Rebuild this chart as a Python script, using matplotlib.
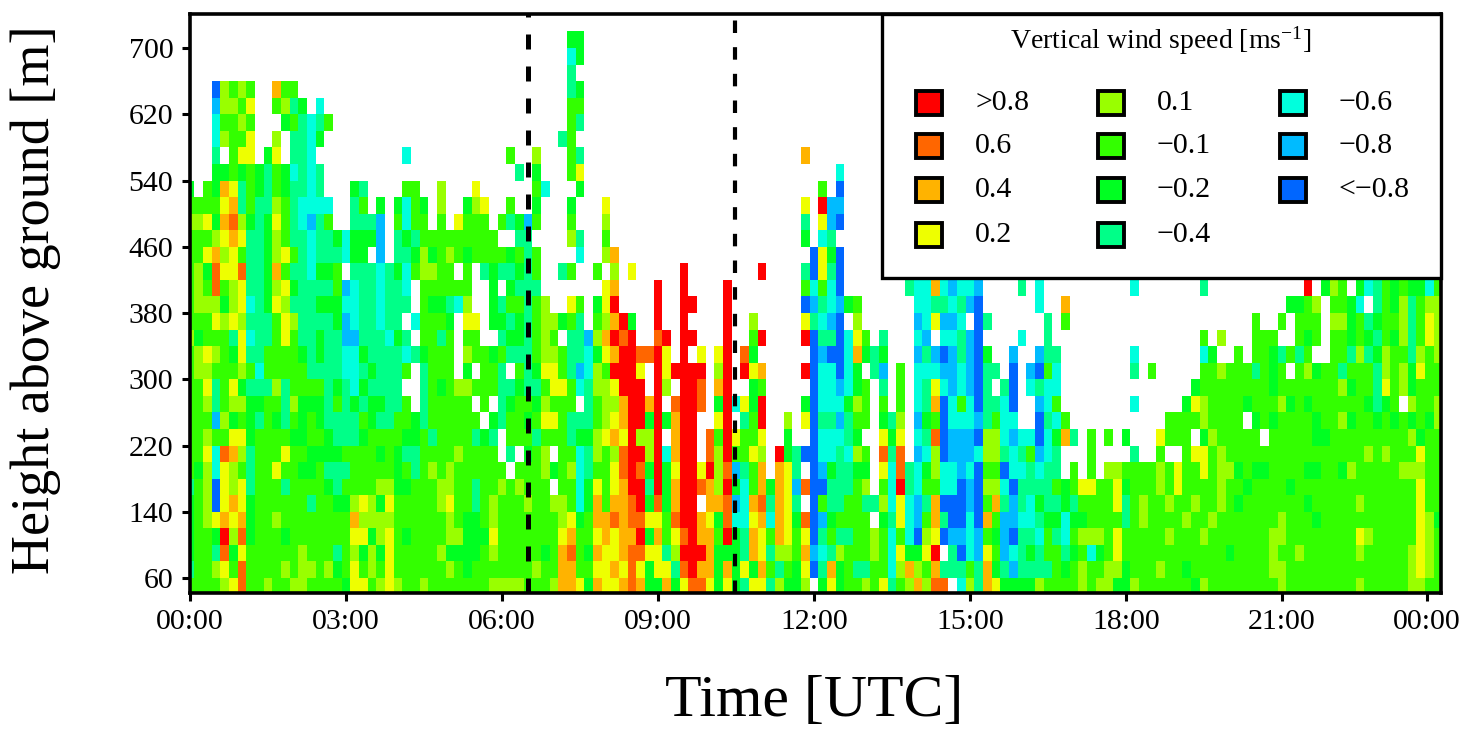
import numpy as np
import matplotlib
matplotlib.use("Agg")
import matplotlib.pyplot as plt
from matplotlib.colors import ListedColormap, BoundaryNorm
from matplotlib.patches import Rectangle

plt.rcParams['font.family'] = ['Liberation Serif', 'DejaVu Serif']
plt.rcParams['mathtext.fontset'] = 'custom'
plt.rcParams['mathtext.rm'] = 'Liberation Serif'
plt.rcParams['mathtext.default'] = 'regular'

# colour classes (legend order)
class_codes = list("ROAYLgGTCBD")
class_values = [1.0, 0.6, 0.4, 0.2, 0.1, -0.1, -0.2, -0.4, -0.6, -0.8, -1.0]
class_labels = [">0.8", "0.6", "0.4", "0.2", "0.1", "\u22120.1", "\u22120.2", "\u22120.4",
                "\u22120.6", "\u22120.8", "<\u22120.8"]
class_colors = ["#ff0000", "#ff6600", "#ffb300", "#eeff00", "#99ff00", "#33ff00",
                "#00ff22", "#00ff88", "#00ffdd", "#00bbff", "#0066ff"]

# height (top of each range gate) from 720 m down to 60 m, 20 m steps
gate_tops = list(range(720, 40, -20))

# columns 0-38 (10 min steps, from 00:00)
block_a = [
 "", "", "",
 "...DLgLg..Agg",
 "...BLLgY..gLTG.C",
 "...CggLg...GgTCTg",
 "...CLggY..L.TTCG",
 "...T.gYY.GY.TTC" + "." * 10 + "C" + "." * 11 + "g.",
 "...GGgGgGTgGCTCT" + "." * 22 + "T",
 "G.gGAYTgGTgGTTCT...GT....gg..L...Y.....",
 "ggggYATgTTLgTCCCC..Tg.G.GCgG.L..GLY..g.",
 "LLYGAOLGTGYgTCBTg..TTTB.gCgg.g.Yggg.gTG",
 "gggLYAYTTGLgTTCTTGCGGGB.TGTggggggggg..T",
 "ggYALYgTTGLYgTCTTTCGG.B.TTGLGgLgGggggGg",
 "gLGOYYOTTGAgTTCGGg.TTTCTGCgLLgg.g.TGTTG",
 "gLgOgLYTTGLYGTTTTgBCTTCTTC.gggggg..G.GT",
 "gLLLGLYCTGYLTTTGGGCCTTCTTT.gGGTCL..GTgg",
 "gggYLYLTTTgYLTTTTGBCTTCTT.CgggG.YY.GGTG",
 "LGgggTYCTTgYgTTGTTBBTTTCGT.ggTg.gg..TGG",
 "gLYLgGYTTggggGTGTTCCGTTTTCTGggg.LggGgTT",
 "gLLgggLgCgggggTTTTCCTGTTTg.Tggg.G.ggT.g",
 "ggYTgYGTTTLTggggTGTCGTTTT..TgGgLLgggTTG",
 "ggLTgLLGGggTLGGGTgTGTGGTTg.Tggggg.g.TGg",
 "gggBLGgGTgGTgGgGTTTTgGTTggGTgggggg.GTgg",
 "ggLggYYGggggGGggGTTTGggggGGgTggggTGT.gg",
 "ggYCOALTgggYggGGGGggggGgGTTggggLgggg.T.",
 "gGLCYLgTggYggGGgTTTgggggGgTgLgLgggggg.g",
 "TgLDYLYTgggTggggGTggggLLGGgggLLggTggLgL",
 "GgLDYAYGggggggTggGGLYLGYgggggLYggTgLggg",
 "GgLYAYAGggLggggggggALLLLggggggLgGGgLggg",
 "GggGRLOGgggGgggggggYYGLYgGggggLLGGGYggg",
 "GggTOGYggggggLgggTgLGLGYgggggLGGGGgLggg",
 "TggLYgOggggLgLLgLGgYgLgYggggggLgGgggggg",
 "ggggLYOggLggLLggggGYYgLYLggLgggggggLLLL",
]

# columns 39-77
block_b = [
 ".....GG",
 ".....CG",
 ".....T",
 ".....TG",
 ".....gg",
 ".....gT",
 "....Tg",
 ".L...gT" + "." * 25 + "A",
 ".G...gY" + "." * 29 + "C",
 ".gC...G" + "." * 27 + "g.D",
 ".G...G...Y" + "." * 22 + "Y.RBB",
 "Bg...g...L" + "." * 22 + "T.YBD",
 "T....LT..g" + "." * 22 + "G.CT",
 "Tg....C..LA" + "." * 22 + "DYGD",
 "Tg..Tg..g.L.Y.....R........R....TDYTD",
 "TT.......YA....R..R....R........gCgCD",
 "TgL..Yg.GYR....R..RR...R........DBTCBGg",
 "TgLLGgT.gLARG..R..R....R..L.....YTCBD.L",
 "TgLg.TTBLAROR..OR.RR...R..gR....RDTTDCY",
 "TgLLgTTCGYARROORY.R.Y.YR.OG......DBDDCA",
 "TGYYgTBCLgRRRY.RYRRRR.LR.RYA....RDCCDCG",
 "TTgYYgCTLLYRRR.RL.RRO.AR..Gg.....DCCBCG",
 "gGLggg.TgLLARRAR.ORRO.GRCYGR....GDCCCGL",
 "GgYYgTTTgLYARRGRGARR..YR.TgR..L.YDTTBTg",
 "gTgggTGGLYAYRLLR.ARR.OgRYggY..G..DCCCTG",
 "GgL.ggCTLgLORRLRCARR.OLRggYL.RGTDDCCTCL",
 "ggLGgLCTggYOROGRGYRRYRLOBTgA.AYT.DBGTTG",
 "ggg.ggCGYgYARRTRGARROALRGCgAGAYBODDTTTg",
 "LggLLgCGAgAAORGOGARR.AAOBCAOTAYT.DgTTgg",
 "ggggLYGgAAOAOOYYgORRAYGOCCYACAYGODBGggg",
 "ggggYAggYAYAARGAgYORAAgRGTAYgAYgYDTgTTg",
 "ggGgAOgGAYYAOOYYTLRRRAGGGTAYTLLgABCTLgg",
 "gLggAAggYYAYOYGYYTORAAGAGYGAgTgGYDTAGgT",
 "gggLAAYGAYYAOAGGAGYOOYGYGTYYTLGGL.GYGgg",
]

# columns 78-111 (the upper gates sit behind the legend box)
block_c = [""] * 15 + [
 ".....TCCACBCCB....T.C..........C..",
 "......CCTTCTBD......C..A",
 "......BCYBBC.DT......T.g",
 "g.T...CB.CCTBD....C..T",
 "GTG...BTBDBTBDG..B..BTT........C",
 ".TB.g.CCCBBCBDTT.D.BDgC........T.g",
 "g.T.g.CTYCBCBDT.TD.CTCC",
 "g.g.g.CTADCgCDTTCD..BCg........C",
 "g.GTL.BGgDCCCBTgCC..DTCg",
 "..YGY.CTODBBBDLLCBCCDCGAT.g.g.G...",
 "g.OTO.BCLDBBBCLLTCTgBCT...g....T..",
 "G.YCOTCGLCCBCDggDCCTCTT.g.g.LLgggg",
 "L.gCRTCggCCDBDLLCDTTTTgGgYYggYGggg",
 "TTLCYCBTADDDBDgATBTCGTTGTggggYTgLg",
 "g.GTYCBgATDDCDAgBBCCTGGCGGggggTgLg",
 "gLgCgCDLYDBBCBgGBDTTCgTCgLLLgYgggg",
 "gLgCYGGYR.TDCBYgBCTGTggTGgCGgYgggg",
 "TggCLALgATTTgTAGTBTTTTgGgLggLLGggg",
 "LgYTgLALOO.CLTAYGGGGLggggLgLLGGLgg",
]

# columns 112-144
block_d = [""] * 15 + [
 ".....T...........R.GLg.GCTgGgGGCg",
 "." * 15 + "GGgL.ggGC.TgGLTgLL",
 "...........g..g.ggg.LLGgTGggLTgYL",
 ".....g.L...ggg..gGg.ggGgGTgGLTgYL",
 ".....CG..g.ggGTgTg..ggTLTGLggTLgL",
 ".....ggLgggTgGg.gLGggTgggTLgLGYgg",
 "....G" + "g" * 8 + "G" + "g" * 7 + "LGggTYgLGggg",
 "...GYLggggGgggLGgGggggggGTGg.LggL",
 ".ggggLgggg.GgGggggGggLGggGgGgGgGL",
 "Yggg.GLggggg.gggggGGgggggggggLGgg",
 "g..gYYgL" + "g" * 16 + "LgLgggYgg",
 "LgYggYgLLGgGGggggGGggGLgggggLLLgg",
 "LgYggggLggGggggG" + "g" * 14 + "Ygg",
 "gLggLggLgGgggggggGgggggLggggggYgg",
 "gggLggLgggggggLgggGgggggggggggYLG",
 "gLgggLgggggggLLggggggggYLgggggYLg",
 "ggggggggGggggLggLggggggLgggggLYLg",
 "LggG" + "g" * 9 + "LL" + "g" * 14 + "LYLg",
 "ggggGLggggggggLggggggggLgggggLLgg",
]

# axis annotation data
x_tick_hours = [0, 3, 6, 9, 12, 15, 18, 21, 23.79]
x_tick_labels = ["00:00", "03:00", "06:00", "09:00", "12:00", "15:00", "18:00", "21:00", "00:00"]
y_ticks = [60, 140, 220, 300, 380, 460, 540, 620, 700]
marker_hours = [6.5, 10.48]

# ---- decode blocks into a numeric grid ----
code_to_value = dict(zip(class_codes, class_values))
widths = [39, 39, 34, 33]
rows = []
for a, b, c, d in zip(block_a, block_b, block_c, block_d):
    s = a.ljust(widths[0], ".") + b.ljust(widths[1], ".") + c.ljust(widths[2], ".") + d.ljust(widths[3], ".")
    rows.append([code_to_value.get(ch, np.nan) for ch in s])
grid = np.ma.masked_invalid(np.array(rows))

W, H = 1478, 736
fig = plt.figure(figsize=(W / 100, H / 100), dpi=100, facecolor="white")
L, R, T, B = 190, 1441, 14, 592.5
ax = fig.add_axes([L / W, 1 - B / H, (R - L) / W, (B - T) / H])

x_edges = (np.arange(grid.shape[1] + 1) - 0.5) / 6.0
y_edges = np.array([gate_tops[0]] + [t - 20 for t in gate_tops], dtype=float)
cmap = ListedColormap(class_colors[::-1])
bounds = [-1.2, -0.9, -0.7, -0.5, -0.3, -0.15, 0.0, 0.15, 0.3, 0.5, 0.8, 1.2]
norm = BoundaryNorm(bounds, cmap.N)
ax.pcolormesh(x_edges, y_edges, grid, cmap=cmap, norm=norm, shading="flat", zorder=1, antialiased=False)

ax.set_xlim(0, (R - L) / 52.0)
ax.set_ylim(60 - (B - 578) / 0.8281, 60 + (578 - T) / 0.8281)

for h, lw in zip(marker_hours, [3.6, 3.0]):
    ax.plot([h, h], ax.get_ylim(), color="black", lw=lw, ls=(0, (3.0, 3.4)), zorder=2, solid_capstyle="butt")

ax.set_xticks(x_tick_hours)
ax.set_xticklabels(x_tick_labels, fontsize=21.5)
ax.set_yticks(y_ticks)
ax.set_yticklabels([str(v) for v in y_ticks], fontsize=21.5)
ax.tick_params(axis="both", direction="out", length=6, width=2.2, pad=6)
for sp in ax.spines.values():
    sp.set_linewidth(2.6)
    sp.set_zorder(6)

fig.text(814 / W, 1 - 702 / H, "Time [UTC]", ha="center", va="center", fontsize=43)
fig.text(36 / W, 1 - 300 / H, "Height above ground [m]", rotation=90, ha="center", va="center", fontsize=39)

# legend box
def px(x, y):
    return x / W, 1 - y / H

fig.add_artist(Rectangle(px(882, 278), (1441 - 882) / W, (278 - 14) / H, transform=fig.transFigure,
                         facecolor="white", edgecolor="black", lw=2.4, zorder=5))
fig.text(*px(1161, 41), "Vertical wind speed [ms$^{-1}$]", ha="center", va="center", fontsize=20, zorder=7)
col_x = [914, 1096, 1278]
row_y = [103, 146, 190, 235]
positions = [(c, r) for c in range(3) for r in range(4)][:len(class_labels)]
for (c, r), lab, col in zip(positions, class_labels, class_colors):
    x0, y0 = col_x[c], row_y[r]
    fig.add_artist(Rectangle(px(x0 + 2, y0 + 12), 26 / W, 24 / H, transform=fig.transFigure,
                             facecolor=col, edgecolor="black", lw=2.8, zorder=7))
    fig.text(*px(x0 + 61, y0), lab, ha="left", va="center", fontsize=21.5, zorder=7)

fig.savefig("out.png", dpi=100)
